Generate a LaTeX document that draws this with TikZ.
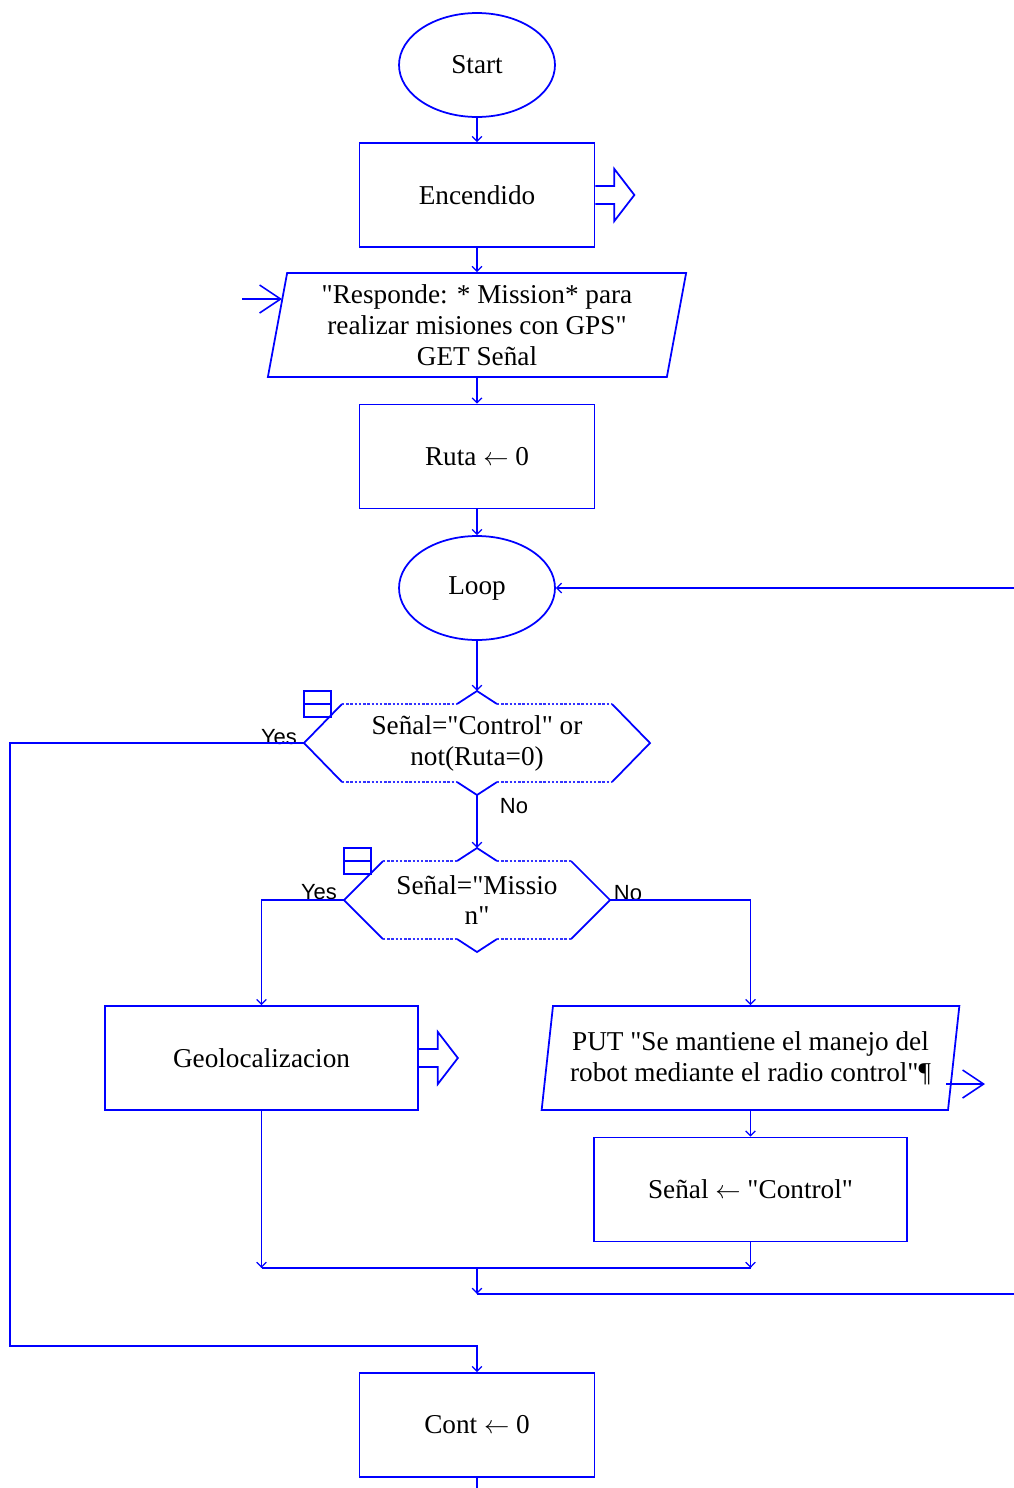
\documentclass[tikz,border=0pt]{standalone}
\usepackage{fontspec}
\setmainfont{Liberation Serif}[Ligatures=TeXOff]
\newfontfamily\branchfont{Liberation Sans}
\usetikzlibrary{shapes.geometric,arrows.meta,positioning,calc}

\tikzset{
  flowline/.style={draw=blue, line width=1pt},
  flow/.style={flowline, -{Straight Barb[length=2.8pt,width=5.5pt,line width=0.7pt]}},
  bigtip/.style={flowline, -{Straight Barb[length=0.42cm,width=0.56cm,line width=0.9pt]}},
  boxtext/.style={font=\fontsize{15.5}{17.6}\selectfont, align=center},
  terminal/.style={ellipse, flowline, boxtext, minimum width=3.12cm, minimum height=2.08cm, inner sep=0pt},
  process/.style={rectangle, flowline, boxtext, minimum height=2.08cm},
  io/.style={trapezium, trapezium left angle=79, trapezium right angle=101,
    trapezium stretches=true, flowline, boxtext, minimum width=8.38cm, minimum height=2.08cm, inner sep=0pt},
  dectext/.style={boxtext, inner sep=0pt},
  branch/.style={font=\branchfont\fontsize{12.5}{14}\selectfont, inner sep=0pt},
  dots/.style={draw=blue!80, line width=0.6pt, dash pattern=on 1.4pt off 1pt},
}

% hexagon round a decision node: #1 node, #2 half width, #3 corner inset, #4 half height
\newcommand{\decframe}[4]{%
  \begin{scope}[shift={(#1)}]
    \draw[flowline] (-#2+#3,-#4) -- (-#2,0) -- (-#2+#3,#4);
    \draw[flowline] (#2-#3,-#4) -- (#2,0) -- (#2-#3,#4);
    \draw[flowline] (-20,-#4) -- (0,-#4-13) -- (20,-#4);
    \draw[flowline] (-20,#4) -- (0,#4+13) -- (20,#4);
    \draw[dots] (-#2+#3,-#4) -- (-20,-#4) (20,-#4) -- (#2-#3,-#4);
    \draw[dots] (-#2+#3,#4) -- (-20,#4) (20,#4) -- (#2-#3,#4);
    % small block icon
    \draw[flowline] (-#2,-52) rectangle (-#2+27,-26);
    \draw[flowline] (-#2,-39) -- (-#2+27,-39);
    \coordinate (#1-top) at (0,-#4-13);
    \coordinate (#1-bot) at (0,#4+13);
    \coordinate (#1-left) at (-#2,0);
    \coordinate (#1-right) at (#2,0);
  \end{scope}}

% hollow arrow on the right side of a box
\newcommand{\sidearrow}[1]{%
  \draw[flowline] ([shift={(0,-9)}]#1.east) -- ++(19,0) -- ++(0,-17) -- ++(20,26)
    -- ++(-20,26) -- ++(0,-17) -- ++(-19,0);}

\begin{document}
\begin{tikzpicture}[x=0.02cm,y=-0.02cm]
  \useasboundingbox (0,0) rectangle (1014,1488);

  % main column
  \node[terminal] (start) at (477,65) {Start};
  \node[process, minimum width=4.7cm] (enc) at (477,195) {Encendido};
  \node[io] (resp) at (477,325) {"Responde: * Mission* para\\realizar misiones con GPS"\\GET Señal};
  \node[process, minimum width=4.7cm] (ruta) at (477,456.5) {Ruta $\leftarrow$ 0};
  \node[terminal] (loop) at (477,588) {Loop};

  % decisions
  \node[dectext] (d1) at (477,743) {Señal="Control" or\\not(Ruta=0)};
  \decframe{d1}{173}{38}{39}
  \node[dectext] (d2) at (477,900) {Señal="Missio\\n"};
  \decframe{d2}{133}{39}{39}

  % branches
  \node[process, minimum width=6.26cm] (geo) at (261.5,1058) {Geolocalizacion};
  \node[io] (put) at (750.5,1058) {PUT "Se mantiene el manejo del\\robot mediante el radio control"¶};
  \node[process, minimum width=6.26cm] (ctl) at (750.5,1189.5) {Señal $\leftarrow$ "Control"};
  \node[process, minimum width=4.7cm] (cont) at (477,1425) {Cont $\leftarrow$ 0};

  % labels
  \node[branch] (yes1) at (279,737) {Yes};
  \node[branch] (no1) at (514,806) {No};
  \node[branch] (yes2) at (319,892) {Yes};
  \node[branch] (no2) at (628,893) {No};

  % side arrows
  \sidearrow{enc}
  \sidearrow{geo}
  \coordinate (inL) at (242,299);
  \coordinate (inR) at (282,299);
  \draw[bigtip] (inL) -- (inR);
  \coordinate (outL) at (946,1084);
  \coordinate (outR) at (985,1084);
  \draw[bigtip] (outL) -- (outR);

  % connectors
  \draw[flow] (start.south) -- (enc.north);
  \draw[flow] (enc.south) -- (enc.south |- resp.north);
  \draw[flow] (ruta.north |- resp.south) -- (ruta.north);
  \draw[flow] (ruta.south) -- (loop.north);
  \draw[flow] (loop.south) -- (d1-top);
  \coordinate (back) at (1014,588);
  \draw[flow] (back) -- (loop.east);
  \draw[flow] (d1-bot) -- (d2-top);
  \coordinate (yesbend) at (10,1346);
  \draw[flow] (d1-left) -| (yesbend) -| (cont.north);
  \draw[flow] (d2-left) -| (geo.north);
  \draw[flow] (d2-right) -| (put.center |- put.north);
  \draw[flow] (ctl.north |- put.south) -- (ctl.north);

  % merge
  \coordinate (joinL) at (261.5,1268);
  \coordinate (joinR) at (750.5,1268);
  \coordinate (joinM) at (477,1268);
  \coordinate (joinB) at (477,1294);
  \coordinate (edgeR) at (1014,1294);
  \draw[flow] (geo.south) -- (joinL);
  \draw[flow] (ctl.south) -- (joinR);
  \draw[flowline] (joinL) -- (joinR);
  \draw[flow] (joinM) -- (joinB);
  \draw[flowline] (joinB) -- (edgeR);
  \coordinate (bottomend) at (477,1488);
  \draw[flowline] (cont.south) -- (bottomend);
\end{tikzpicture}
\end{document}
